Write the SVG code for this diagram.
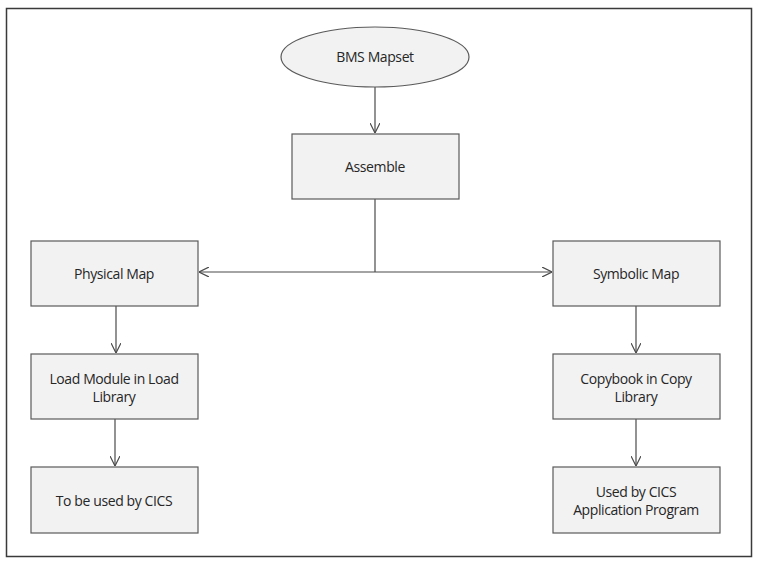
<svg xmlns="http://www.w3.org/2000/svg" width="758" height="570" viewBox="0 0 758 570">
<style>
.box{fill:#f2f2f2;stroke:#5a5a5a;stroke-width:1.2}
.lbl{font-family:"Open Sans","Liberation Sans",sans-serif;font-size:14px;fill:#262626;text-anchor:middle;letter-spacing:-0.4px}
.con{fill:none;stroke:#4a4a4a;stroke-width:1.2}
</style>
<defs>
<marker id="arr" viewBox="0 0 10 10" refX="10" refY="5" markerWidth="10" markerHeight="10" markerUnits="userSpaceOnUse" orient="auto">
<path d="M0,0 L10,5 L0,10" fill="none" stroke="#4a4a4a" stroke-width="1.2"/>
</marker>
</defs>
<rect x="0" y="0" width="758" height="570" fill="#fff"/>
<rect x="6.5" y="8.5" width="745" height="548" fill="#fff" stroke="#3a3a3a" stroke-width="1.5"/>
<g id="connectors">
<path class="con" d="M375,87 V133" marker-end="url(#arr)"/>
<path class="con" d="M375,199 V272"/>
<path class="con" d="M375,272 H199" marker-end="url(#arr)"/>
<path class="con" d="M375,272 H552" marker-end="url(#arr)"/>
<path class="con" d="M116,306 V353" marker-end="url(#arr)"/>
<path class="con" d="M115,419 V466" marker-end="url(#arr)"/>
<path class="con" d="M636,306 V353" marker-end="url(#arr)"/>
<path class="con" d="M636,419 V466" marker-end="url(#arr)"/>
</g>
<g id="bms">
<ellipse class="box" cx="375" cy="57" rx="94" ry="30"/>
<text class="lbl" x="375" y="62">BMS Mapset</text>
</g>
<g id="assemble">
<rect class="box" x="292" y="134" width="167" height="65"/>
<text class="lbl" x="375" y="172">Assemble</text>
</g>
<g id="physical">
<rect class="box" x="31" y="241" width="167" height="65"/>
<text class="lbl" x="114" y="279">Physical Map</text>
</g>
<g id="loadmodule">
<rect class="box" x="31" y="354" width="167" height="65"/>
<text class="lbl" x="114" y="384">Load Module in Load</text>
<text class="lbl" x="114" y="402">Library</text>
</g>
<g id="tobeused">
<rect class="box" x="31" y="467" width="167" height="66"/>
<text class="lbl" x="114" y="506">To be used by CICS</text>
</g>
<g id="symbolic">
<rect class="box" x="553" y="241" width="167" height="65"/>
<text class="lbl" x="636" y="279">Symbolic Map</text>
</g>
<g id="copybook">
<rect class="box" x="553" y="354" width="167" height="65"/>
<text class="lbl" x="636" y="384">Copybook in Copy</text>
<text class="lbl" x="636" y="402">Library</text>
</g>
<g id="usedby">
<rect class="box" x="553" y="467" width="167" height="66"/>
<text class="lbl" x="636" y="497">Used by CICS</text>
<text class="lbl" x="636" y="515">Application Program</text>
</g>
</svg>
